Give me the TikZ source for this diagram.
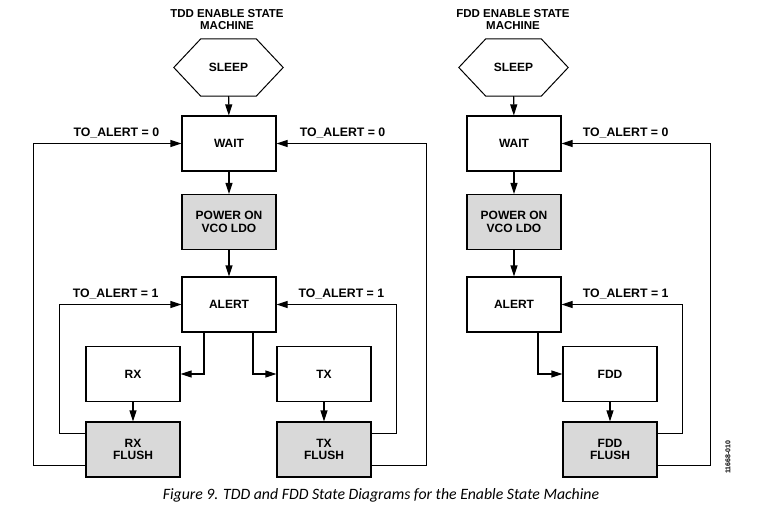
\documentclass[tikz,border=0pt]{standalone}
\usepackage{fontspec}
\setmainfont{Liberation Sans}
\newfontfamily\capfont{Carlito}
\usetikzlibrary{arrows.meta,calc}

\begin{document}
\begin{tikzpicture}[x=1pt, y=-1pt,
    box/.style={draw, line width=1.1pt, minimum width=94pt, minimum height=55pt, align=center, font=\bfseries\fontsize{12}{12.5}\selectfont, fill=white},
    gbox/.style={box, fill=black!15},
    hex/.style={minimum width=55pt, minimum height=57pt, inner sep=0pt, font=\bfseries\fontsize{12}{12.5}\selectfont},
    ttl/.style={align=center, font=\bfseries\fontsize{11.5}{11.5}\selectfont},
    lbl/.style={inner sep=0pt, text depth=0pt, above=6pt, font=\bfseries\fontsize{12.3}{12}\selectfont},
    arr/.style={-{Triangle[length=11pt,width=7pt]}, line width=1.1pt}
]
\useasboundingbox (0,0) rectangle (771,511);

% TDD
\node[ttl] (tttl) at (227,19.5) {TDD ENABLE STATE\\MACHINE};
\node[hex] (tsleep) at (228.5,67.5) {SLEEP};
\draw[line width=1pt] (tsleep.north west) -- (tsleep.north east) -- ($(tsleep.east)+(27,0)$) -- (tsleep.south east) -- (tsleep.south west) -- ($(tsleep.west)+(-27,0)$) -- cycle;
\node[box] (twait) at (229,143.5) {WAIT};
\node[gbox] (tpwr) at (229,222) {POWER ON\\VCO LDO};
\node[box] (talert) at (229,304.5) {ALERT};
\node[box] (trx) at (133,374) {RX};
\node[box] (ttx) at (324,374) {TX};
\node[gbox] (trxf) at (133,449.5) {RX\\FLUSH};
\node[gbox] (ttxf) at (324,449.5) {TX\\FLUSH};

\draw[arr] (tsleep) -- (twait);
\draw[arr] (twait) -- (tpwr);
\draw[arr] (tpwr) -- (talert);
\draw[arr] ([xshift=-25pt]talert.south) |- (trx.east);
\draw[arr] ([xshift=24pt]talert.south) |- (ttx.west);
\draw[arr] (trx) -- (trxf);
\draw[arr] (ttx) -- (ttxf);
\draw[arr] ([yshift=16pt]trxf.west) -- ++(-26,0) |- node[lbl, pos=0.73] {TO\_ALERT = 1} (talert.west);
\draw[arr] ([yshift=-16pt]trxf.west) -- ++(-52,0) |- node[lbl, pos=0.78] {TO\_ALERT = 0} (twait.west);
\draw[arr] ([yshift=16pt]ttxf.east) -- ++(25,0) |- node[lbl, pos=0.73] {TO\_ALERT = 1} (talert.east);
\draw[arr] ([yshift=-16pt]ttxf.east) -- ++(55,0) |- node[lbl, pos=0.78] {TO\_ALERT = 0} (twait.east);

% FDD
\node[ttl] (fttl) at (513,19.5) {FDD ENABLE STATE\\MACHINE};
\node[hex] (fsleep) at (513.5,67.5) {SLEEP};
\draw[line width=1pt] (fsleep.north west) -- (fsleep.north east) -- ($(fsleep.east)+(27,0)$) -- (fsleep.south east) -- (fsleep.south west) -- ($(fsleep.west)+(-27,0)$) -- cycle;
\node[box] (fwait) at (514,143.5) {WAIT};
\node[gbox] (fpwr) at (514,222) {POWER ON\\VCO LDO};
\node[box] (falert) at (514,304.5) {ALERT};
\node[box] (ffdd) at (610,374) {FDD};
\node[gbox] (ffddf) at (610,449.5) {FDD\\FLUSH};

\draw[arr] (fsleep) -- (fwait);
\draw[arr] (fwait) -- (fpwr);
\draw[arr] (fpwr) -- (falert);
\draw[arr] ([xshift=24pt]falert.south) |- (ffdd.west);
\draw[arr] (ffdd) -- (ffddf);
\draw[arr] ([yshift=16pt]ffddf.east) -- ++(25,0) |- node[lbl, pos=0.735] {TO\_ALERT = 1} (falert.east);
\draw[arr] ([yshift=-16pt]ffddf.east) -- ++(53,0) |- node[lbl, pos=0.785] {TO\_ALERT = 0} (fwait.east);

\node[rotate=90, font=\bfseries\fontsize{7}{7}\selectfont] (fignum) at (728,457) {11668-010};
\node[font=\capfont\itshape\fontsize{15.8}{16}\selectfont] (cap) at (381,495) {Figure 9. TDD and FDD State Diagrams for the Enable State Machine};
\end{tikzpicture}
\end{document}
